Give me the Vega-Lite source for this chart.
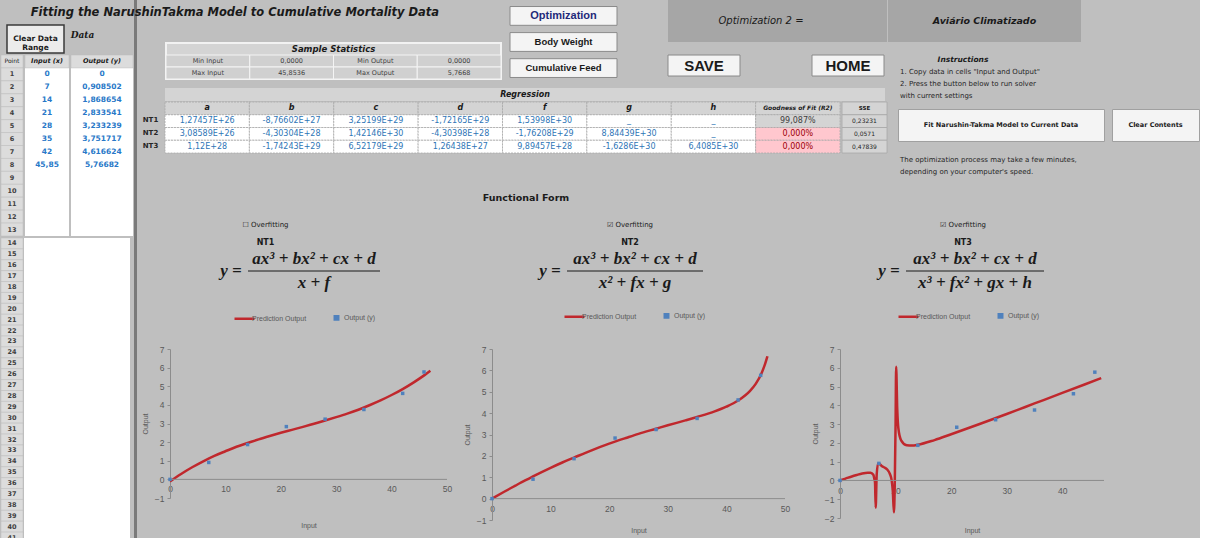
{
"$schema":"https://vega.github.io/schema/vega-lite/v6.json",
"background":"#bfbfbf",
"padding":0,
"title":{"text":"Fitting the NarushinTakma Model  to  Cumulative  Mortality Data","anchor":"start","dx":30,"offset":-18,"fontSize":11.5,"fontStyle":"italic","fontWeight":"bold","font":"DejaVu Sans","color":"#1a1a1a","frame":"bounds"},
"config":{
 "font":"DejaVu Sans",
 "view":{"stroke":null},
 "concat":{"spacing":0},
 "axis":{"labelFont":"Liberation Sans","labelFontSize":8.5,"labelColor":"#595959","titleFont":"Liberation Sans","titleFontSize":7,"titleFontWeight":"normal","titleColor":"#595959","domainColor":"#8c8c8c","tickColor":"#8c8c8c","grid":false,"labelOverlap":false},
 "legend":{"layout":{"top":{"anchor":"middle"}}}
},
"resolve":{"scale":{"color":"independent"},"legend":{"color":"independent"}},
"datasets":{
 "dtA":[
  {"row":"hdr","pt":"Point","inp":"Input (x)","out":"Output (y)"},
  {"row":"1","pt":"1","inp":"0","out":"0"},
  {"row":"2","pt":"2","inp":"7","out":"0,908502"},
  {"row":"3","pt":"3","inp":"14","out":"1,868654"},
  {"row":"4","pt":"4","inp":"21","out":"2,833541"},
  {"row":"5","pt":"5","inp":"28","out":"3,233239"},
  {"row":"6","pt":"6","inp":"35","out":"3,751717"},
  {"row":"7","pt":"7","inp":"42","out":"4,616624"},
  {"row":"8","pt":"8","inp":"45,85","out":"5,76682"},
  {"row":"9","pt":"9"},{"row":"10","pt":"10"},{"row":"11","pt":"11"},{"row":"12","pt":"12"},{"row":"13","pt":"13"}
 ],
 "dtB":[
  {"row":"14","pt":"14"},{"row":"15","pt":"15"},{"row":"16","pt":"16"},{"row":"17","pt":"17"},{"row":"18","pt":"18"},{"row":"19","pt":"19"},{"row":"20","pt":"20"},
  {"row":"21","pt":"21"},{"row":"22","pt":"22"},{"row":"23","pt":"23"},{"row":"24","pt":"24"},{"row":"25","pt":"25"},{"row":"26","pt":"26"},{"row":"27","pt":"27"},
  {"row":"28","pt":"28"},{"row":"29","pt":"29"},{"row":"30","pt":"30"},{"row":"31","pt":"31"},{"row":"32","pt":"32"},{"row":"33","pt":"33"},{"row":"34","pt":"34"},
  {"row":"35","pt":"35"},{"row":"36","pt":"36"},{"row":"37","pt":"37"},{"row":"38","pt":"38"},{"row":"39","pt":"39"},{"row":"40","pt":"40"},{"row":"41","pt":"41"}
 ],
 "ss":[
  {"row":"title","t":"Sample Statistics"},
  {"row":"min","col":"c1","t":"Min Input"},{"row":"min","col":"c2","t":"0,0000"},{"row":"min","col":"c3","t":"Min Output"},{"row":"min","col":"c4","t":"0,0000"},
  {"row":"max","col":"c1","t":"Max Input"},{"row":"max","col":"c2","t":"45,8536"},{"row":"max","col":"c3","t":"Max Output"},{"row":"max","col":"c4","t":"5,7668"}
 ],
 "btns":[{"b":"Optimization"},{"b":"Body Weight"},{"b":"Cumulative Feed"}],
 "reg":[
  {"row":"hdr","col":"a","t":"a"},{"row":"hdr","col":"b","t":"b"},{"row":"hdr","col":"c","t":"c"},{"row":"hdr","col":"d","t":"d"},{"row":"hdr","col":"f","t":"f"},{"row":"hdr","col":"g","t":"g"},{"row":"hdr","col":"h","t":"h"},{"row":"hdr","col":"GoF","t":"Goodness of Fit (R2)"},
  {"row":"NT1","col":"a","t":"1,27457E+26"},{"row":"NT1","col":"b","t":"-8,76602E+27"},{"row":"NT1","col":"c","t":"3,25199E+29"},{"row":"NT1","col":"d","t":"-1,72165E+29"},{"row":"NT1","col":"f","t":"1,53998E+30"},{"row":"NT1","col":"g","t":"_"},{"row":"NT1","col":"h","t":"_"},{"row":"NT1","col":"GoF","t":"99,087%"},
  {"row":"NT2","col":"a","t":"3,08589E+26"},{"row":"NT2","col":"b","t":"-4,30304E+28"},{"row":"NT2","col":"c","t":"1,42146E+30"},{"row":"NT2","col":"d","t":"-4,30398E+28"},{"row":"NT2","col":"f","t":"-1,76208E+29"},{"row":"NT2","col":"g","t":"8,84439E+30"},{"row":"NT2","col":"h","t":"_"},{"row":"NT2","col":"GoF","t":"0,000%"},
  {"row":"NT3","col":"a","t":"1,12E+28"},{"row":"NT3","col":"b","t":"-1,74243E+29"},{"row":"NT3","col":"c","t":"6,52179E+29"},{"row":"NT3","col":"d","t":"1,26438E+27"},{"row":"NT3","col":"f","t":"9,89457E+28"},{"row":"NT3","col":"g","t":"-1,6286E+30"},{"row":"NT3","col":"h","t":"6,4085E+30"},{"row":"NT3","col":"GoF","t":"0,000%"}
 ],
 "sse":[{"row":"hdr","t":"SSE"},{"row":"NT1","t":"0,23231"},{"row":"NT2","t":"0,0571"},{"row":"NT3","t":"0,47839"}],
 "pts":[{"x":0,"y":0},{"x":7,"y":0.908502},{"x":14,"y":1.868654},{"x":21,"y":2.833541},{"x":28,"y":3.233239},{"x":35,"y":3.751717},{"x":42,"y":4.616624},{"x":45.85,"y":5.76682}],
 "nt1":[{"x":0,"y":-0.11},{"x":2,"y":0.29},{"x":4,"y":0.65},{"x":6,"y":0.97},{"x":8,"y":1.26},{"x":10,"y":1.51},{"x":12,"y":1.75},{"x":14,"y":1.95},{"x":16,"y":2.15},{"x":18,"y":2.33},{"x":20,"y":2.5},{"x":22,"y":2.66},{"x":24,"y":2.82},{"x":26,"y":2.99},{"x":28,"y":3.16},{"x":30,"y":3.34},{"x":32,"y":3.53},{"x":34,"y":3.74},{"x":36,"y":3.98},{"x":38,"y":4.24},{"x":40,"y":4.53},{"x":42,"y":4.85},{"x":44,"y":5.21},{"x":46,"y":5.61},{"x":47,"y":5.83}],
 "nt2":[{"x":0,"y":0},{"x":2,"y":0.31},{"x":4,"y":0.61},{"x":5,"y":0.76},{"x":7,"y":1.04},{"x":10,"y":1.44},{"x":12,"y":1.69},{"x":14,"y":1.92},{"x":17,"y":2.26},{"x":20,"y":2.57},{"x":23,"y":2.85},{"x":25,"y":3.03},{"x":28,"y":3.27},{"x":30,"y":3.43},{"x":33,"y":3.66},{"x":35,"y":3.82},{"x":38,"y":4.08},{"x":40,"y":4.3},{"x":42,"y":4.59},{"x":44,"y":5.03},{"x":45,"y":5.37},{"x":46,"y":5.87},{"x":46.5,"y":6.22},{"x":47,"y":6.66}],
 "nt3":[{"x":0,"y":0},{"x":1,"y":0.1},{"x":2,"y":0.2},{"x":3,"y":0.29},{"x":4,"y":0.37},{"x":5,"y":0.41},{"x":5.5,"y":0.41},{"x":6,"y":0.3},{"x":6.2,"y":0.05},{"x":6.3,"y":-0.1},{"x":6.42,"y":-1.45},{"x":6.6,"y":0.3},{"x":6.85,"y":0.9},{"x":7,"y":0.9},{"x":7.5,"y":0.77},{"x":8,"y":0.69},{"x":8.5,"y":0.58},{"x":9,"y":0.33},{"x":9.3,"y":0},{"x":9.5,"y":-0.56},{"x":9.7,"y":-1.7},{"x":9.85,"y":-0.3},{"x":10,"y":3},{"x":10.1,"y":6.05},{"x":10.3,"y":3.8},{"x":10.5,"y":2.78},{"x":11,"y":2.14},{"x":12,"y":1.88},{"x":13,"y":1.86},{"x":14,"y":1.9},{"x":17,"y":2.15},{"x":20,"y":2.46},{"x":25,"y":2.99},{"x":30,"y":3.54},{"x":35,"y":4.1},{"x":40,"y":4.66},{"x":44,"y":5.11},{"x":47,"y":5.45}]
},
"hconcat":[
 {"vconcat":[
  {"width":128,"height":24,"data":{"values":[]},"mark":"point"},
  {"hconcat":[
   {"width":5,"height":1,"data":{"values":[]},"mark":"point"},
   {"width":57,"height":28,"view":{"fill":"#ececec","stroke":"#3a3a3a","strokeWidth":1.5},"data":{"values":[{}]},"mark":{"type":"text","text":["Clear Data","Range"],"fontWeight":"bold","fontSize":7.5,"color":"#1a1a1a","lineHeight":9}},
   {"width":35,"height":20,"data":{"values":[{}]},"mark":{"type":"text","text":"Data","fontWeight":"bold","fontStyle":"italic","fontSize":9,"font":"DejaVu Serif","color":"#1a1a1a"}}
  ]},
  {"hconcat":[
   {"width":22,"height":181,"data":{"name":"dtA"},"view":{"fill":"#dcdcdc"},
    "encoding":{"y":{"field":"row","type":"nominal","scale":{"type":"band","domain":["hdr","1","2","3","4","5","6","7","8","9","10","11","12","13"],"paddingInner":0,"paddingOuter":0},"axis":null}},
    "layer":[
     {"mark":{"type":"bar","fill":"#dcdcdc","stroke":"#bdbdbd","strokeWidth":0.5}},
     {"transform":[{"filter":"datum.row==='hdr'"}],"mark":{"type":"text","fontSize":6,"color":"#262626"},"encoding":{"text":{"field":"pt"}}},
     {"transform":[{"filter":"datum.row!=='hdr'"}],"mark":{"type":"text","fontSize":6.5,"fontWeight":"bold","color":"#404040"},"encoding":{"text":{"field":"pt"}}}
    ]},
   {"width":44,"height":181,"data":{"name":"dtA"},"view":{"fill":"#ffffff"},
    "encoding":{"y":{"field":"row","type":"nominal","scale":{"type":"band","domain":["hdr","1","2","3","4","5","6","7","8","9","10","11","12","13"],"paddingInner":0,"paddingOuter":0},"axis":null}},
    "layer":[
     {"transform":[{"filter":"datum.row==='hdr'"}],"mark":{"type":"bar","fill":"#dcdcdc","stroke":"#bdbdbd","strokeWidth":0.5}},
     {"transform":[{"filter":"datum.row==='hdr'"}],"mark":{"type":"text","fontSize":6.5,"fontWeight":"bold","fontStyle":"italic","color":"#1a1a1a"},"encoding":{"text":{"field":"inp"}}},
     {"transform":[{"filter":"datum.row!=='hdr' && datum.inp != null"}],"mark":{"type":"text","fontSize":7.5,"fontWeight":"bold","color":"#2878c8"},"encoding":{"text":{"field":"inp"}}}
    ]},
   {"width":62,"height":181,"data":{"name":"dtA"},"view":{"fill":"#ffffff"},
    "encoding":{"y":{"field":"row","type":"nominal","scale":{"type":"band","domain":["hdr","1","2","3","4","5","6","7","8","9","10","11","12","13"],"paddingInner":0,"paddingOuter":0},"axis":null}},
    "layer":[
     {"transform":[{"filter":"datum.row==='hdr'"}],"mark":{"type":"bar","fill":"#dcdcdc","stroke":"#bdbdbd","strokeWidth":0.5}},
     {"transform":[{"filter":"datum.row==='hdr'"}],"mark":{"type":"text","fontSize":6.5,"fontWeight":"bold","fontStyle":"italic","color":"#1a1a1a"},"encoding":{"text":{"field":"out"}}},
     {"transform":[{"filter":"datum.row!=='hdr' && datum.out != null"}],"mark":{"type":"text","fontSize":7.5,"fontWeight":"bold","color":"#2878c8"},"encoding":{"text":{"field":"out"}}}
    ]}
  ]},
  {"hconcat":[
   {"width":22,"height":305,"data":{"name":"dtB"},"view":{"fill":"#dcdcdc"},
    "encoding":{"y":{"field":"row","type":"nominal","scale":{"type":"band","domain":["14","15","16","17","18","19","20","21","22","23","24","25","26","27","28","29","30","31","32","33","34","35","36","37","38","39","40","41"],"paddingInner":0,"paddingOuter":0},"axis":null}},
    "layer":[
     {"mark":{"type":"bar","fill":"#dcdcdc","stroke":"#bdbdbd","strokeWidth":0.5}},
     {"mark":{"type":"text","fontSize":6.5,"fontWeight":"bold","color":"#404040"},"encoding":{"text":{"field":"pt"}}}
    ]},
   {"width":106,"height":305,"view":{"fill":"#ffffff"},"data":{"values":[]},"mark":"point"}
  ]}
 ]},
 {"width":3,"height":538,"view":{"fill":"#7a7a7a"},"data":{"values":[]},"mark":"point"},
 {"vconcat":[
  {"hconcat":[
   {"vconcat":[
    {"hconcat":[
     {"width":27,"height":1,"data":{"values":[]},"mark":"point"},
     {"vconcat":[
      {"width":335,"height":42,"data":{"values":[]},"mark":"point"},
      {"width":335,"height":36,"data":{"name":"ss"},"view":{"fill":"#d4d4d4","stroke":"#f2f2f2","strokeWidth":2},
       "encoding":{"y":{"field":"row","type":"nominal","scale":{"type":"band","domain":["title","min","max"],"paddingInner":0,"paddingOuter":0},"axis":null}},
       "layer":[
        {"transform":[{"filter":"datum.row!=='title'"}],"mark":{"type":"rect","fill":"#d0d0d0","stroke":"#f4f4f4","strokeWidth":1},"encoding":{"x":{"field":"col","type":"nominal","scale":{"type":"band","domain":["c1","c2","c3","c4"],"paddingInner":0,"paddingOuter":0},"axis":null}}},
        {"transform":[{"filter":"datum.row==='title'"}],"mark":{"type":"text","fontSize":8.5,"fontWeight":"bold","fontStyle":"italic","color":"#1a1a1a"},"encoding":{"text":{"field":"t"}}},
        {"transform":[{"filter":"datum.row!=='title'"}],"mark":{"type":"text","fontSize":6.5,"color":"#404040"},"encoding":{"x":{"field":"col","type":"nominal","axis":null},"text":{"field":"t"}}}
       ]}
     ]},
     {"width":6,"height":1,"data":{"values":[]},"mark":"point"},
     {"width":107,"height":84,"data":{"name":"btns"},
      "encoding":{"y":{"field":"b","type":"nominal","scale":{"type":"band","domain":["Optimization","Body Weight","Cumulative Feed"],"paddingInner":0.28,"paddingOuter":0.25},"axis":null}},
      "layer":[
       {"mark":{"type":"bar","fill":"#f4f4f4","stroke":"#8a8a8a","strokeWidth":1}},
       {"transform":[{"filter":"datum.b==='Optimization'"}],"mark":{"type":"text","fontSize":11,"fontWeight":"bold","color":"#1f2a7a","font":"Liberation Sans"},"encoding":{"text":{"field":"b"}}},
       {"transform":[{"filter":"datum.b!=='Optimization'"}],"mark":{"type":"text","fontSize":9.5,"fontWeight":"bold","color":"#1a1a1a","font":"Liberation Sans"},"encoding":{"text":{"field":"b"}}}
      ]},
     {"width":49,"height":1,"data":{"values":[]},"mark":"point"},
     {"vconcat":[
      {"hconcat":[
       {"width":186,"height":42,"view":{"fill":"#a6a6a6"},"data":{"values":[{}]},"mark":{"type":"text","text":"Optimization 2 =","fontSize":10,"fontStyle":"italic","color":"#1a1a1a"}},
       {"width":33,"height":42,"view":{"fill":"#a6a6a6"},"data":{"values":[]},"mark":"point"}
      ]},
      {"width":216,"height":42,"data":{"values":[{"b":"SAVE"},{"b":"HOME"}]},
       "encoding":{"x":{"field":"b","type":"nominal","scale":{"type":"band","domain":["SAVE","HOME"],"paddingInner":0.5,"paddingOuter":0},"axis":null},
        "y":{"datum":"btn","type":"nominal","scale":{"type":"band","domain":["btn"],"paddingOuter":0.5,"align":0.62},"axis":null}},
       "layer":[
        {"mark":{"type":"rect","fill":"#f4f4f4","stroke":"#8a8a8a"}},
        {"mark":{"type":"text","fontSize":15,"fontWeight":"bold","font":"Liberation Sans","color":"#1a1a1a"},"encoding":{"text":{"field":"b"}}}
       ]}
     ]}
    ]},
    {"width":700,"height":4,"data":{"values":[]},"mark":"point"},
    {"hconcat":[
     {"width":27,"height":64,"data":{"values":[{"r":"NT1"},{"r":"NT2"},{"r":"NT3"}]},"mark":{"type":"text","fontSize":7,"fontWeight":"bold","color":"#262626"},
      "encoding":{"y":{"field":"r","type":"nominal","scale":{"type":"band","domain":["t","hdr","NT1","NT2","NT3"],"paddingInner":0,"paddingOuter":0},"axis":null},"text":{"field":"r"}}},
     {"vconcat":[
      {"width":720,"height":13,"view":{"fill":"#d4d4d4"},"data":{"values":[{}]},"mark":{"type":"text","text":"Regression","fontSize":8,"fontWeight":"bold","fontStyle":"italic","color":"#1a1a1a"}},
      {"hconcat":[
       {"width":675,"height":51,"data":{"name":"reg"},
        "encoding":{
         "x":{"field":"col","type":"nominal","scale":{"type":"band","domain":["a","b","c","d","f","g","h","GoF"],"paddingInner":0,"paddingOuter":0},"axis":null},
         "y":{"field":"row","type":"nominal","scale":{"type":"band","domain":["hdr","NT1","NT2","NT3"],"paddingInner":0,"paddingOuter":0},"axis":null}},
        "layer":[
         {"mark":{"type":"rect","stroke":"#a8a8a8","strokeWidth":0.8,"strokeDash":[2,1]},"encoding":{"fill":{"condition":[{"test":"datum.row==='hdr'","value":"#d4d4d4"},{"test":"datum.col==='GoF' && datum.row==='NT1'","value":"#d4d4d4"},{"test":"datum.col==='GoF'","value":"#ffc7ce"}],"value":"#ffffff"}}},
         {"transform":[{"filter":"datum.row==='hdr' && datum.col!=='GoF'"}],"mark":{"type":"text","fontSize":8,"fontWeight":"bold","fontStyle":"italic","color":"#1a1a1a"},"encoding":{"text":{"field":"t"}}},
         {"transform":[{"filter":"datum.row==='hdr' && datum.col==='GoF'"}],"mark":{"type":"text","fontSize":6,"fontWeight":"bold","fontStyle":"italic","color":"#1a1a1a"},"encoding":{"text":{"field":"t"}}},
         {"transform":[{"filter":"datum.row!=='hdr' && datum.col!=='GoF'"}],"mark":{"type":"text","fontSize":8,"color":"#2e75b6"},"encoding":{"text":{"field":"t"}}},
         {"transform":[{"filter":"datum.row!=='hdr' && datum.col==='GoF'"}],"mark":{"type":"text","fontSize":8},"encoding":{"text":{"field":"t"},"color":{"condition":{"test":"datum.row==='NT1'","value":"#404040"},"value":"#9c0006"}}}
        ]},
       {"width":45,"height":51,"data":{"name":"sse"},
        "encoding":{"y":{"field":"row","type":"nominal","scale":{"type":"band","domain":["hdr","NT1","NT2","NT3"],"paddingInner":0,"paddingOuter":0},"axis":null}},
        "layer":[
         {"mark":{"type":"bar","fill":"#d4d4d4","stroke":"#a8a8a8","strokeWidth":0.8}},
         {"transform":[{"filter":"datum.row==='hdr'"}],"mark":{"type":"text","fontSize":5.5,"fontWeight":"bold","color":"#1a1a1a"},"encoding":{"text":{"field":"t"}}},
         {"transform":[{"filter":"datum.row!=='hdr'"}],"mark":{"type":"text","fontSize":6,"color":"#262626"},"encoding":{"text":{"field":"t"}}}
        ]}
      ]}
     ]}
    ]}
   ]},
   {"vconcat":[
    {"width":193,"height":42,"view":{"fill":"#a6a6a6"},"data":{"values":[{}]},"mark":{"type":"text","text":"Aviário Climatizado","fontSize":9.5,"fontWeight":"bold","fontStyle":"italic","color":"#1a1a1a"}},
    {"width":150,"height":24,"data":{"values":[{"p":"t"}]},"mark":{"type":"text","text":"Instructions","fontSize":7.5,"fontWeight":"bold","fontStyle":"italic","color":"#1a1a1a"},
     "encoding":{"y":{"field":"p","type":"nominal","scale":{"type":"band","domain":["b","t"],"paddingInner":0,"paddingOuter":0},"axis":null}}},
    {"width":24,"height":36,"data":{"values":[{"p":"l1","t":"1. Copy data in cells \"Input and Output\""},{"p":"l2","t":"2. Press the button below to run solver"},{"p":"l3","t":"with current settings"}]},
     "mark":{"type":"text","align":"left","fontSize":7,"color":"#262626"},
     "encoding":{"y":{"field":"p","type":"nominal","scale":{"type":"band","domain":["l1","l2","l3"],"paddingInner":0,"paddingOuter":0},"axis":null},"text":{"field":"t"}}},
    {"width":300,"height":6,"data":{"values":[]},"mark":"point"},
    {"hconcat":[
     {"width":9,"height":1,"data":{"values":[]},"mark":"point"},
     {"width":206,"height":32,"view":{"fill":"#f4f4f4","stroke":"#a0a0a0"},"data":{"values":[{}]},"mark":{"type":"text","text":"Fit Narushin-Takma Model to Current Data","fontSize":6.5,"fontWeight":"bold","color":"#1a1a1a"}},
     {"width":6,"height":1,"data":{"values":[]},"mark":"point"},
     {"width":87,"height":32,"view":{"fill":"#f4f4f4","stroke":"#a0a0a0"},"data":{"values":[{}]},"mark":{"type":"text","text":"Clear Contents","fontSize":6.5,"fontWeight":"bold","color":"#1a1a1a"}}
    ]},
    {"width":24,"height":36,"data":{"values":[{"p":"l1","t":"The optimization process may take a few minutes,"},{"p":"l2","t":"depending on your computer's speed."}]},
     "mark":{"type":"text","align":"left","fontSize":7,"color":"#262626"},
     "encoding":{"y":{"field":"p","type":"nominal","scale":{"type":"band","domain":["p","l1","l2"],"paddingInner":0,"paddingOuter":0},"axis":null},"text":{"field":"t"}}}
   ]}
  ]},
  {"vconcat":[
   {"width":778,"height":40,"data":{"values":[{}]},"mark":{"type":"text","text":"Functional Form","fontWeight":"bold","fontSize":9.5,"color":"#1a1a1a"}},
   {"hconcat":[
    {"width":257,"height":32,"data":{"values":[{"p":"chk","t":"☐ Overfitting"},{"p":"nt","t":"NT1"}]},
     "encoding":{"y":{"field":"p","type":"nominal","scale":{"type":"band","domain":["chk","nt"],"paddingInner":0.4,"paddingOuter":0.1},"axis":null},"text":{"field":"t"}},
     "layer":[{"transform":[{"filter":"datum.p==='chk'"}],"mark":{"type":"text","fontSize":7,"color":"#1a1a1a"}},{"transform":[{"filter":"datum.p==='nt'"}],"mark":{"type":"text","fontSize":8,"fontWeight":"bold","color":"#1a1a1a"}}]},
    {"width":472,"height":32,"data":{"values":[{"p":"chk","t":"☑ Overfitting"},{"p":"nt","t":"NT2"}]},
     "encoding":{"y":{"field":"p","type":"nominal","scale":{"type":"band","domain":["chk","nt"],"paddingInner":0.4,"paddingOuter":0.1},"axis":null},"text":{"field":"t"}},
     "layer":[{"transform":[{"filter":"datum.p==='chk'"}],"mark":{"type":"text","fontSize":7,"color":"#1a1a1a"}},{"transform":[{"filter":"datum.p==='nt'"}],"mark":{"type":"text","fontSize":8,"fontWeight":"bold","color":"#1a1a1a"}}]},
    {"width":194,"height":32,"data":{"values":[{"p":"chk","t":"☑ Overfitting"},{"p":"nt","t":"NT3"}]},
     "encoding":{"y":{"field":"p","type":"nominal","scale":{"type":"band","domain":["chk","nt"],"paddingInner":0.4,"paddingOuter":0.1},"axis":null},"text":{"field":"t"}},
     "layer":[{"transform":[{"filter":"datum.p==='chk'"}],"mark":{"type":"text","fontSize":7,"color":"#1a1a1a"}},{"transform":[{"filter":"datum.p==='nt'"}],"mark":{"type":"text","fontSize":8,"fontWeight":"bold","color":"#1a1a1a"}}]}
   ]},
   {"hconcat":[
    {"width":78,"height":1,"data":{"values":[]},"mark":"point"},
    {"width":32,"height":40,"data":{"values":[{"p":"bar"}]},"mark":{"type":"text","text":"y =","font":"Liberation Serif","fontSize":17,"fontWeight":"bold","fontStyle":"italic","color":"#1a1a1a"},
     "encoding":{"y":{"field":"p","type":"nominal","scale":{"type":"band","domain":["num","bar","den"],"paddingInner":0,"paddingOuter":0.2},"axis":null}}},
    {"width":132,"height":40,"data":{"values":[{"p":"num","t":"ax³ + bx² + cx + d"},{"p":"bar"},{"p":"den","t":"x + f"}]},
     "encoding":{"y":{"field":"p","type":"nominal","scale":{"type":"band","domain":["num","bar","den"],"paddingInner":0,"paddingOuter":0.2},"axis":null}},
     "layer":[
      {"transform":[{"filter":"datum.p!=='bar'"}],"mark":{"type":"text","font":"Liberation Serif","fontSize":17,"fontWeight":"bold","fontStyle":"italic","color":"#1a1a1a"},"encoding":{"text":{"field":"t"}}},
      {"transform":[{"filter":"datum.p==='bar'"}],"mark":{"type":"rule","color":"#1a1a1a","strokeWidth":1},"encoding":{}}
     ]},
    {"width":153,"height":1,"data":{"values":[]},"mark":"point"},
    {"width":32,"height":40,"data":{"values":[{"p":"bar"}]},"mark":{"type":"text","text":"y =","font":"Liberation Serif","fontSize":17,"fontWeight":"bold","fontStyle":"italic","color":"#1a1a1a"},
     "encoding":{"y":{"field":"p","type":"nominal","scale":{"type":"band","domain":["num","bar","den"],"paddingInner":0,"paddingOuter":0.2},"axis":null}}},
    {"width":136,"height":40,"data":{"values":[{"p":"num","t":"ax³ + bx² + cx + d"},{"p":"bar"},{"p":"den","t":"x² + fx + g"}]},
     "encoding":{"y":{"field":"p","type":"nominal","scale":{"type":"band","domain":["num","bar","den"],"paddingInner":0,"paddingOuter":0.2},"axis":null}},
     "layer":[
      {"transform":[{"filter":"datum.p!=='bar'"}],"mark":{"type":"text","font":"Liberation Serif","fontSize":17,"fontWeight":"bold","fontStyle":"italic","color":"#1a1a1a"},"encoding":{"text":{"field":"t"}}},
      {"transform":[{"filter":"datum.p==='bar'"}],"mark":{"type":"rule","color":"#1a1a1a","strokeWidth":1},"encoding":{}}
     ]},
    {"width":169,"height":1,"data":{"values":[]},"mark":"point"},
    {"width":32,"height":40,"data":{"values":[{"p":"bar"}]},"mark":{"type":"text","text":"y =","font":"Liberation Serif","fontSize":17,"fontWeight":"bold","fontStyle":"italic","color":"#1a1a1a"},
     "encoding":{"y":{"field":"p","type":"nominal","scale":{"type":"band","domain":["num","bar","den"],"paddingInner":0,"paddingOuter":0.2},"axis":null}}},
    {"width":138,"height":40,"data":{"values":[{"p":"num","t":"ax³ + bx² + cx + d"},{"p":"bar"},{"p":"den","t":"x³ + fx² + gx + h"}]},
     "encoding":{"y":{"field":"p","type":"nominal","scale":{"type":"band","domain":["num","bar","den"],"paddingInner":0,"paddingOuter":0.2},"axis":null}},
     "layer":[
      {"transform":[{"filter":"datum.p!=='bar'"}],"mark":{"type":"text","font":"Liberation Serif","fontSize":17,"fontWeight":"bold","fontStyle":"italic","color":"#1a1a1a"},"encoding":{"text":{"field":"t"}}},
      {"transform":[{"filter":"datum.p==='bar'"}],"mark":{"type":"rule","color":"#1a1a1a","strokeWidth":1},"encoding":{}}
     ]}
   ]}
  ]},
  {"vconcat":[
   {"width":1000,"height":21,"data":{"values":[]},"mark":"point"},
   {"resolve":{"scale":{"color":"independent"},"legend":{"color":"independent"}},
    "hconcat":[
    {"width":4,"height":1,"data":{"values":[]},"mark":"point"},
    {"width":277,"height":149,
     "layer":[
      {"data":{"name":"nt1"},"mark":{"type":"line","strokeWidth":2.5,"interpolate":"monotone"},
       "encoding":{
        "x":{"field":"x","type":"quantitative","scale":{"domain":[0,50],"nice":false,"zero":false},"axis":{"title":"Input","values":[0,10,20,30,40,50],"format":"d","domain":false,"ticks":false,"labelPadding":-14,"titlePadding":23,"labelFlush":false,"labelOverlap":false}},
        "y":{"field":"y","type":"quantitative","scale":{"domain":[-1,7],"nice":false,"zero":false},"axis":{"title":"Output","values":[-1,0,1,2,3,4,5,6,7],"format":"d","tickCount":12,"tickSize":3,"labelPadding":3,"titlePadding":6,"labelOverlap":false,"labelFlush":false}},
        "color":{"datum":"Prediction Output","scale":{"domain":["Prediction Output","Output (y)"],"range":["#c0282d","#4f81bd"]},
         "legend":{"orient":"top","title":null,"direction":"horizontal","offset":24,"labelFontSize":7,"labelColor":"#595959","labelFont":"Liberation Sans","labelOffset":4,"columnPadding":22,"symbolSize":400,"symbolStrokeWidth":2.5,
          "encode":{"symbols":{"update":{"shape":{"signal":"datum.value === 'Prediction Output' ? 'stroke' : 'square'"},"size":{"signal":"datum.value === 'Prediction Output' ? 400 : 12"},"stroke":{"signal":"datum.value === 'Prediction Output' ? '#c0282d' : 'transparent'"},"fill":{"signal":"datum.value === 'Prediction Output' ? 'transparent' : '#4f81bd'"},"strokeWidth":{"value":2.5}}}}}}}},
      {"data":{"values":[{}]},"mark":{"type":"rule","color":"#8c8c8c","strokeWidth":1},"encoding":{"y":{"datum":0,"type":"quantitative","axis":{"title":"Output","values":[-1,0,1,2,3,4,5,6,7],"format":"d","tickCount":12,"tickSize":3,"labelPadding":3,"titlePadding":6,"labelOverlap":false,"labelFlush":false}}}},
      {"data":{"name":"pts"},"mark":{"type":"point","shape":"square","filled":true,"size":12,"opacity":1},
       "encoding":{"x":{"field":"x","type":"quantitative"},"y":{"field":"y","type":"quantitative"},"color":{"datum":"Output (y)"}}}
     ]},
    {"width":11,"height":1,"data":{"values":[]},"mark":"point"},
    {"width":293,"height":171,
     "layer":[
      {"data":{"name":"nt2"},"mark":{"type":"line","strokeWidth":2.5,"interpolate":"monotone"},
       "encoding":{
        "x":{"field":"x","type":"quantitative","scale":{"domain":[0,50],"nice":false,"zero":false},"axis":{"title":"Input","values":[0,10,20,30,40,50],"format":"d","domain":false,"ticks":false,"labelPadding":-16,"titlePadding":6,"labelFlush":false,"labelOverlap":false}},
        "y":{"field":"y","type":"quantitative","scale":{"domain":[-1,7],"nice":false,"zero":false},"axis":{"title":"Output","values":[-1,0,1,2,3,4,5,6,7],"format":"d","tickCount":12,"tickSize":3,"labelPadding":3,"titlePadding":6,"labelOverlap":false,"labelFlush":false}},
        "color":{"datum":"Prediction Output","scale":{"domain":["Prediction Output","Output (y)"],"range":["#c0282d","#4f81bd"]},
         "legend":{"orient":"top","title":null,"direction":"horizontal","offset":26,"labelFontSize":7,"labelColor":"#595959","labelFont":"Liberation Sans","labelOffset":4,"columnPadding":22,"symbolSize":400,"symbolStrokeWidth":2.5,
          "encode":{"symbols":{"update":{"shape":{"signal":"datum.value === 'Prediction Output' ? 'stroke' : 'square'"},"size":{"signal":"datum.value === 'Prediction Output' ? 400 : 12"},"stroke":{"signal":"datum.value === 'Prediction Output' ? '#c0282d' : 'transparent'"},"fill":{"signal":"datum.value === 'Prediction Output' ? 'transparent' : '#4f81bd'"},"strokeWidth":{"value":2.5}}}}}}}},
      {"data":{"values":[{}]},"mark":{"type":"rule","color":"#8c8c8c","strokeWidth":1},"encoding":{"y":{"datum":0,"type":"quantitative","axis":{"title":"Output","values":[-1,0,1,2,3,4,5,6,7],"format":"d","tickCount":12,"tickSize":3,"labelPadding":3,"titlePadding":6,"labelOverlap":false,"labelFlush":false}}}},
      {"data":{"name":"pts"},"mark":{"type":"point","shape":"square","filled":true,"size":12,"opacity":1},
       "encoding":{"x":{"field":"x","type":"quantitative"},"y":{"field":"y","type":"quantitative"},"color":{"datum":"Output (y)"}}}
     ]},
    {"width":21,"height":1,"data":{"values":[]},"mark":"point"},
    {"width":264,"height":169,
     "layer":[
      {"data":{"name":"nt3"},"mark":{"type":"line","strokeWidth":2.5,"interpolate":"monotone"},
       "encoding":{
        "x":{"field":"x","type":"quantitative","scale":{"domain":[0,47.5],"nice":false,"zero":false},"axis":{"title":"Input","values":[0,10,20,30,40],"format":"d","domain":false,"ticks":false,"labelPadding":-32,"titlePadding":8,"labelFlush":false,"labelOverlap":false}},
        "y":{"field":"y","type":"quantitative","scale":{"domain":[-2,7],"nice":false,"zero":false},"axis":{"title":"Output","values":[-2,-1,0,1,2,3,4,5,6,7],"format":"d","tickCount":12,"tickSize":3,"labelPadding":3,"titlePadding":6,"labelOverlap":false,"labelFlush":false}},
        "color":{"datum":"Prediction Output","scale":{"domain":["Prediction Output","Output (y)"],"range":["#c0282d","#4f81bd"]},
         "legend":{"orient":"top","title":null,"direction":"horizontal","offset":26,"labelFontSize":7,"labelColor":"#595959","labelFont":"Liberation Sans","labelOffset":4,"columnPadding":22,"symbolSize":400,"symbolStrokeWidth":2.5,
          "encode":{"symbols":{"update":{"shape":{"signal":"datum.value === 'Prediction Output' ? 'stroke' : 'square'"},"size":{"signal":"datum.value === 'Prediction Output' ? 400 : 12"},"stroke":{"signal":"datum.value === 'Prediction Output' ? '#c0282d' : 'transparent'"},"fill":{"signal":"datum.value === 'Prediction Output' ? 'transparent' : '#4f81bd'"},"strokeWidth":{"value":2.5}}}}}}}},
      {"data":{"values":[{}]},"mark":{"type":"rule","color":"#8c8c8c","strokeWidth":1},"encoding":{"y":{"datum":0,"type":"quantitative","axis":{"title":"Output","values":[-2,-1,0,1,2,3,4,5,6,7],"format":"d","tickCount":12,"tickSize":3,"labelPadding":3,"titlePadding":6,"labelOverlap":false,"labelFlush":false}}}},
      {"data":{"name":"pts"},"mark":{"type":"point","shape":"square","filled":true,"size":12,"opacity":1},
       "encoding":{"x":{"field":"x","type":"quantitative"},"y":{"field":"y","type":"quantitative"},"color":{"datum":"Output (y)"}}}
     ]}
   ]}
  ]}
 ]}
]
}
